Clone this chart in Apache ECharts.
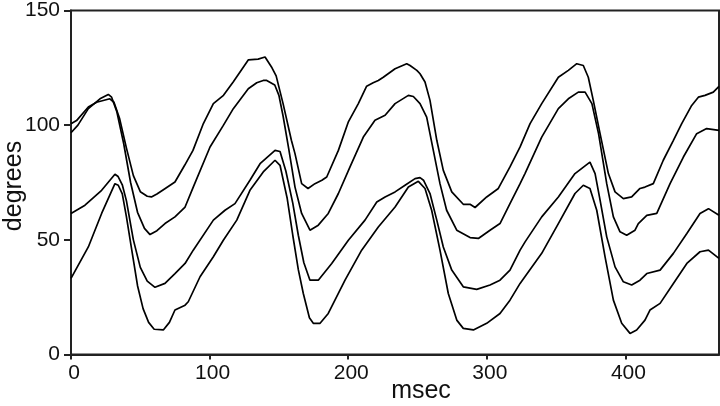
<!DOCTYPE html>
<html>
<head>
<meta charset="utf-8">
<script src="https://cdn.jsdelivr.net/npm/echarts@6/dist/echarts.min.js"></script>
<style>
html,body{margin:0;padding:0;background:#fff;}
#chart{width:720px;height:406px;}
</style>
</head>
<body>
<div id="chart"></div>
<script>
// tick values
const xTicks = [0, 100, 200, 300, 400];
const yTicks = [0, 50, 100, 150];
const xLabel = 'msec';
const yLabel = 'degrees';

// curves: [msec, degrees]
const curveA = [[0,100.6],[4,102],[12.5,107.9],[18.5,110],[28,111.5],[31,110],[35,103],[40,90],[45,78],[50,71],[55,69],[58,68.7],[62,70],[68,72.4],[75,75.2],[82,82.5],[88,89],[95.5,100.7],[102.7,109.4],[110,113],[117,118.8],[128,128.5],[135,128.8],[140,129.7],[145,125],[148,121.5],[153,109.4],[159,93.4],[161.6,87.6],[166.4,74.5],[171,72.4],[176,74.5],[181,76],[184.5,77.4],[192.9,89],[200,101.3],[207.3,109.4],[213.3,117],[218,118.5],[221.7,119.5],[225.3,120.9],[233.8,124.6],[242.2,126.8],[244.6,126],[249.5,123.9],[251.8,122.4],[255.4,118.8],[259,110.8],[263.9,93.4],[268.6,80.3],[274.7,70.9],[283,65.5],[287.9,65.5],[291.5,64.1],[299.9,68.7],[308.3,72.4],[316.7,81.8],[324,90.5],[331.2,100.7],[339.6,109.4],[351.6,120.9],[358.8,123.9],[364.9,126.8],[369.6,126],[373.2,120.9],[376.8,110.8],[381.7,96.3],[387.7,78.9],[392.5,70.9],[398.5,68],[404.5,68.7],[410.5,72.4],[414.1,73],[420.1,74.5],[427.3,84.7],[434.6,93.4],[440.6,100.7],[447.8,108.6],[452.6,112.2],[457.4,113],[463.4,114.4],[467.5,116.9]];

const curveB = [[0,96.7],[5,100],[12.5,107.2],[20.9,111.5],[26.9,113.4],[29.3,112.2],[33,106],[38,92],[43,75],[48,62],[53,55],[57,52.3],[62,54],[67.8,57.1],[75,60],[82.3,64.3],[88.2,73],[100.3,90.5],[109.9,99.9],[117.1,107.2],[127.9,115.9],[134,118.5],[138.7,119.5],[141.2,119.5],[147,117.5],[150,113],[153,104],[157,90],[161.6,73],[166.4,61.5],[172.4,54.2],[178.4,56.4],[185.6,61.5],[192.9,70.2],[201.3,81.8],[210.9,94.8],[219.3,102.1],[226.6,104.3],[233.8,109.4],[243.4,113],[247,112.5],[251.8,109.4],[256.6,103.5],[261.4,89],[266.2,74.5],[271,62.9],[278.3,54.2],[287.9,51],[293.9,50.6],[302.3,54.2],[309.5,57.1],[316.7,65.8],[324,74.5],[327.6,79],[339.6,94.8],[351.6,107.2],[358.8,111.5],[366,114.4],[370.9,114.4],[375.8,109.4],[380.6,96.3],[386.5,74.5],[391.3,60],[396.1,53.5],[400.9,52],[406.9,54.2],[409.3,57.1],[415.4,60.7],[422.6,61.5],[432.2,74.5],[441.8,86.1],[451.4,96.3],[458.6,98.5],[467.5,97.7]];

const curveC = [[0,61.5],[10.1,65.1],[22.1,71.6],[31.7,78.6],[34,77.6],[37,74],[40,67],[45,50],[50,38],[55,32],[60.6,29.3],[67.8,31],[75,35.3],[82.3,39.7],[88.2,45.5],[102.7,58.6],[111.1,62.9],[118.3,65.8],[129.1,76],[136.4,83.2],[147.2,89],[150.8,88.5],[155,80],[160,66],[164,52],[168,40],[172.4,32.4],[178.4,32.4],[188.1,39.7],[200.1,49.8],[212.1,58.6],[220.6,66.5],[226.6,68.7],[233.8,70.9],[241,73.8],[248.2,76.7],[251.8,77.1],[254.3,76],[259,70.2],[263.9,58.6],[268.6,46.9],[274.7,36.8],[283,29.5],[292.7,28.4],[302.3,30.3],[309.5,32.4],[316.7,36.8],[324,45.5],[327.6,49.1],[339.6,60],[351.6,68.7],[363.6,78.9],[374.4,83.9],[378.1,78.9],[381.7,67.3],[386.5,51.3],[392.5,38.2],[398.5,31.7],[404.5,30.3],[410.5,32.4],[415.4,35.3],[425,36.8],[434.6,44.1],[444.3,52.8],[453.8,61.5],[459.9,63.6],[467.5,60.7]];

const curveD = [[0,33.2],[12.5,46.9],[22.1,61.5],[31.7,74.5],[34.1,73.8],[37,70],[40,60],[44,45],[48,30],[52,20],[56,14],[60,11],[66.6,10.7],[71,14],[75,19.4],[82.3,21.5],[84.6,23],[93.1,33.9],[102.7,42.6],[109.9,49.8],[119.6,58.6],[129.1,71.6],[138.7,79.6],[147.2,84.7],[150.8,82.5],[156,68],[160,52],[164,37],[167.6,26.6],[172,16],[174.8,13.6],[179.7,13.6],[185.6,17.9],[197.7,32.4],[209.7,45.5],[221.7,55.6],[233.8,64.3],[243.4,73],[250.6,75.5],[255.4,72.4],[260.2,62.9],[266.2,45.5],[272.2,26.6],[278.3,15],[283,11.4],[290.3,10.7],[299.9,13.6],[309.5,17.9],[316.7,23.7],[324,31],[327.6,34],[339.6,44.1],[351.6,57.1],[363.6,70.2],[369.6,73.8],[374.4,72.4],[379.3,62.9],[385.3,42.6],[391.3,23.7],[397.3,13.6],[403.3,9.2],[408.1,10.7],[414.1,15],[417.7,19.4],[425,22.3],[434.6,31],[444.3,39.7],[453.8,44.8],[459.9,45.5],[467.5,41.9]];

const FONT = 'Liberation Sans';
const chart = echarts.init(document.getElementById('chart'), null, {renderer: 'canvas'});

function lineSeries(data) {
  return {
    type: 'line', data: data, showSymbol: false, symbol: 'none', smooth: false,
    animation: false,
    lineStyle: {color: '#000', width: 1.7}
  };
}

chart.setOption({
  animation: false,
  backgroundColor: '#fff',
  grid: {left: 71, top: 10, right: 1, height: 344.5, show: true, borderColor: '#222', borderWidth: 2, backgroundColor: 'transparent'},
  xAxis: {
    type: 'value', min: 0, max: 467.5, interval: 100,
    axisLine: {show: true, lineStyle: {color: '#222', width: 2}},
    axisTick: {show: true, length: 5, lineStyle: {color: '#222', width: 2}, customValues: xTicks},
    axisLabel: {color: '#111', fontFamily: FONT, fontSize: 21, margin: 8, padding: [0, 0, 0, 6], customValues: xTicks},
    splitLine: {show: false}
  },
  yAxis: {
    type: 'value', min: 0, max: 150, interval: 50,
    axisLine: {show: true, lineStyle: {color: '#222', width: 2}},
    axisTick: {show: true, length: 7, lineStyle: {color: '#222', width: 2}, customValues: yTicks},
    axisLabel: {color: '#111', fontFamily: FONT, fontSize: 21, margin: 11, customValues: yTicks},
    splitLine: {show: false}
  },
  graphic: [
    {type: 'text', x: 421, y: 391, style: {text: xLabel, font: '25px "' + FONT + '"', fill: '#111', align: 'center', verticalAlign: 'middle'}},
    {type: 'text', x: 14, y: 186, rotation: Math.PI / 2, style: {text: yLabel, font: '25px "' + FONT + '"', fill: '#111', align: 'center', verticalAlign: 'middle'}}
  ],
  series: [lineSeries(curveA), lineSeries(curveB), lineSeries(curveC), lineSeries(curveD)]
});
</script>
</body>
</html>
